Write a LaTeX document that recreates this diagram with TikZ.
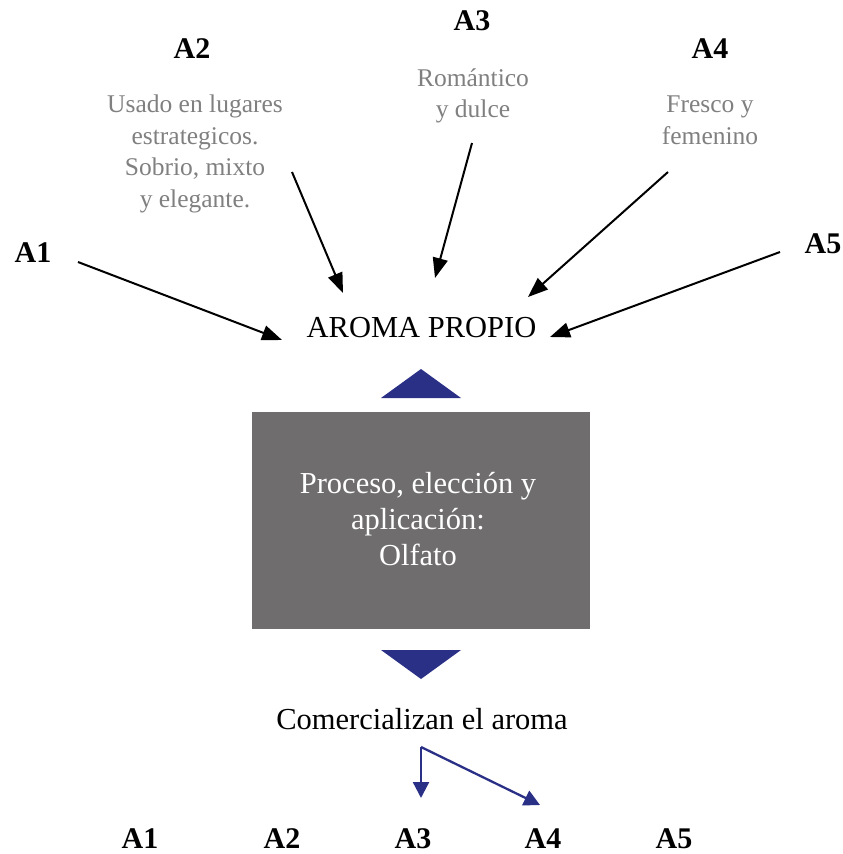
\documentclass[tikz,border=0pt]{standalone}
\usepackage{fontspec}
\setmainfont{Liberation Serif}
\usetikzlibrary{arrows.meta}
\definecolor{navy}{RGB}{43,48,135}
\definecolor{boxgray}{RGB}{111,109,110}
\definecolor{desc}{RGB}{128,128,128}
\tikzset{
  lbl/.style={font=\fontsize{30}{34}\selectfont\bfseries, inner sep=0pt, anchor=base},
  plain/.style={font=\fontsize{30.5}{36}\selectfont, inner sep=0pt, anchor=base},
  descr/.style={font=\fontsize{25.5}{31.7}\selectfont, text=desc, align=center, inner sep=0pt, anchor=center},
  blk/.style={-{Triangle[length=20pt,width=15pt]}, line width=2pt, black},
  nav/.style={-{Triangle[length=16pt,width=16pt]}, line width=2.3pt, navy},
}
\begin{document}
\begin{tikzpicture}[x=1pt,y=-1pt]
\useasboundingbox (0,0) rectangle (843,854);
% top labels
\node[lbl] (a1) at (33,262) {A1};
\node[lbl] (a2) at (192,58) {A2};
\node[lbl] (a3) at (472,30) {A3};
\node[lbl] (a4) at (710,58) {A4};
\node[lbl] (a5) at (823,253) {A5};
% descriptions
\node[descr] (d2) at (195,154) {Usado en lugares\\estrategicos.\\Sobrio, mixto\\y elegante.};
\node[descr] (d3) at (473,96) {Romántico\\y dulce};
\node[descr] (d4) at (710,120) {Fresco y\\femenino};
% center
\node[plain] (aroma) at (421.5,337) {AROMA PROPIO};
\fill[navy] (381,398) -- (421,369) -- (461,398) -- cycle;
\node[fill=boxgray, minimum width=338pt, minimum height=217pt, inner sep=0pt] (box) at (421,520.5) {};
\node[font=\fontsize{30.5}{36}\selectfont, text=white, align=center, inner sep=0pt] (boxtxt) at (418,519) {Proceso, elección y\\aplicación:\\Olfato};
\fill[navy] (381,650) -- (461,650) -- (421,679) -- cycle;
\node[plain] (com) at (422,729) {Comercializan el aroma};
% bottom labels
\node[lbl] (b1) at (140,848) {A1};
\node[lbl] (b2) at (282,848) {A2};
\node[lbl] (b3) at (413,848) {A3};
\node[lbl] (b4) at (543,848) {A4};
\node[lbl] (b5) at (674,848) {A5};
% arrow end points
\coordinate (s1) at (78,262);  \coordinate (e1) at (282,340);
\coordinate (s2) at (292,172); \coordinate (e2) at (343,293);
\coordinate (s3) at (472,143); \coordinate (e3) at (435,278);
\coordinate (s4) at (668,172); \coordinate (e4) at (528,297);
\coordinate (s5) at (780,252); \coordinate (e5) at (550,337);
\draw[blk] (s1) -- (e1);
\draw[blk] (s2) -- (e2);
\draw[blk] (s3) -- (e3);
\draw[blk] (s4) -- (e4);
\draw[blk] (s5) -- (e5);
% bottom navy arrows
\coordinate (c0) at (421,747);
\coordinate (c3) at (421,798);
\coordinate (c4) at (540,805);
\draw[nav] (c0) -- (c3);
\draw[nav] (c0) -- (c4);
\end{tikzpicture}
\end{document}
